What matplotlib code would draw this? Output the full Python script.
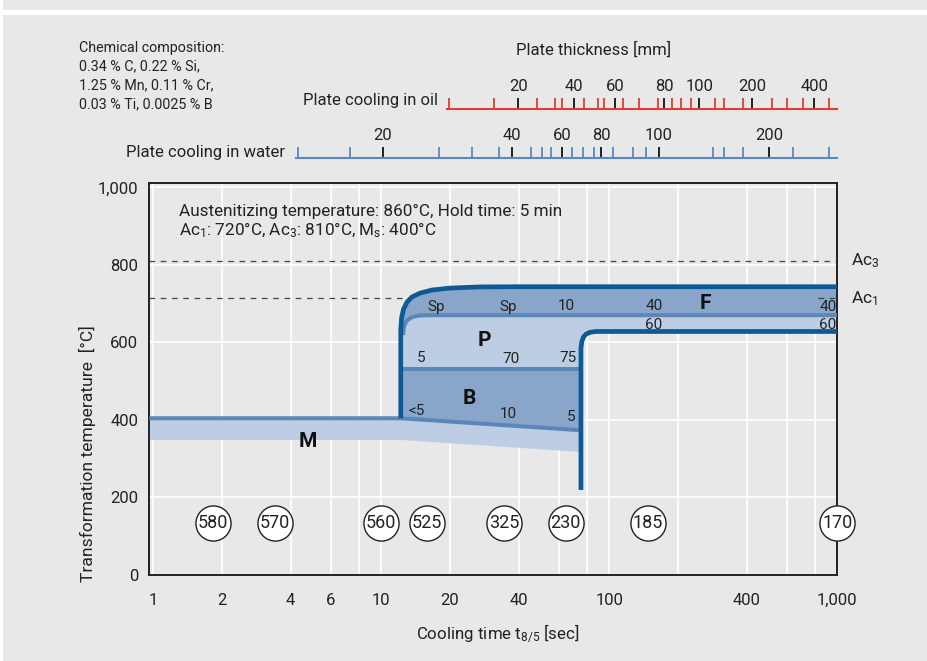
import matplotlib
matplotlib.use('Agg')
import matplotlib.pyplot as plt
import matplotlib.transforms as mtransforms
from matplotlib.patches import Rectangle
from matplotlib.ticker import NullFormatter

plt.rcParams['font.family'] = ['Roboto', 'DejaVu Sans']
plt.rcParams['mathtext.fontset'] = 'custom'
plt.rcParams['mathtext.rm'] = 'Roboto'
plt.rcParams['mathtext.it'] = 'Roboto:italic'
plt.rcParams['mathtext.bf'] = 'Roboto:bold'

# ---------------- data ----------------
x_major = [1, 2, 4, 6, 10, 20, 40, 100, 400, 1000]
x_major_lbl = ['1', '2', '4', '6', '10', '20', '40', '100', '400', '1,000']
x_minor = [8, 60, 80, 200, 600, 800]
y_ticks = [0, 200, 400, 600, 800, 1000]
y_tick_lbl = ['0', '200', '400', '600', '800', '1,000']

Ac3 = 810
Ac1 = 714

# transformation start curve (outer, dark)
start_t = [12.17, 12.17, 12.27, 12.52, 12.97, 13.63, 14.78, 16.69, 20.0, 27.1, 40.6, 1000]
start_T = [404, 632, 663, 686, 704, 717, 727, 735, 740, 743, 743.5, 743.5]
# ferrite / pearlite boundary
inner_t = [12.45, 12.58, 12.9, 13.5, 14.49, 16.36, 1000]
inner_T = [619, 642, 655, 664, 669, 670, 670]
# pearlite / bainite boundary
pb_t = [12.17, 75.1]
pb_T = [531, 531]
# transformation end curve (dark)
end_t = [75.1, 75.1, 75.8, 77.1, 79.0, 82.3, 87.4, 1000]
end_T = [219, 585, 603, 614, 621, 626, 628, 628]
# martensite start line and martensite band lower edge
ms_t = [0.96, 12.17, 75.1]
ms_T = [404, 404, 373]
m_low_T = [348, 348, 317]

# hardness values (circles)
hard_vals = ['580', '570', '560', '525', '325', '230', '185', '170']
hard_t = [1.83, 3.42, 10.0, 15.8, 34.6, 64.4, 148, 1000]
hard_T = 134.5

# phase percentage labels
pct_text = ['Sp', 'Sp', '10', '40', '60', '5', '70', '75', '<5', '10', '5']
pct_t = [17.4, 36.1, 65.0, 157, 157, 14.9, 36.9, 65.7, 14.3, 36.1, 67.7]
pct_T = [692, 692, 694, 694, 645, 559, 556, 559, 423, 415, 406]
edge_pct_text = ['40', '60']
edge_pct_T = [692, 645]
phase_text = ['F', 'P', 'B', 'M']
phase_t = [264.8, 28.2, 24.3, 4.77]
phase_T = [699, 604, 455, 345]

# plate-thickness scales (positions as cooling times)
oil_major = [39.9, 70.2, 105.9, 174.2, 248.2, 423.9, 792.9]
oil_major_lbl = ['20', '40', '60', '80', '100', '200', '400']
oil_minor = [19.8, 31.3, 48.0, 57.8, 61.8, 77.4, 89.5, 95.1, 114.8, 135.4, 163.1,
             188.9, 205.7, 228.2, 291.7, 319.4, 387.0, 518.6, 599.9, 709.6, 919.5]
oil_start = 19.5
water_major = [10.14, 37.55, 62.22, 91.97, 165.2, 501.7]
water_major_lbl = ['20', '40', '60', '80', '100', '200']
water_minor = [4.30, 7.29, 17.97, 25.07, 32.83, 45.36, 50.53, 55.51, 68.42, 76.43, 85.70,
               104.1, 127.4, 144.9, 284.1, 318.5, 384.7, 641.3, 922.4]
water_start = 4.23

# ---------------- style ----------------
BG = '#e7e8e7'
DARK = '#0e5a96'
MID = '#5b86b8'
FILL_DARK = '#89a6ca'
FILL_LIGHT = '#bdcee4'
RED = '#e53b2c'
SBLUE = '#5b89bd'
TXT = '#222222'

W, H = 928, 661
fig = plt.figure(figsize=(W / 100, H / 100), dpi=100, facecolor='white')


def fx(px):
    return px / W


def fy(py):
    return 1 - py / H


fig.add_artist(Rectangle((fx(3), 0), 1, fy(15), transform=fig.transFigure,
                         facecolor=BG, edgecolor='none', zorder=0))
fig.add_artist(Rectangle((fx(3), fy(10)), 1, 10 / H, transform=fig.transFigure,
                         facecolor=BG, edgecolor='none', zorder=0))

AX_L, AX_R, AX_T, AX_B = 149.3, 837.3, 182.7, 574.8
ax = fig.add_axes([fx(AX_L), fy(AX_B), (AX_R - AX_L) / W, (AX_B - AX_T) / H])
ax.set_facecolor(BG)
ax.set_xscale('log')
ax.set_xlim(0.96, 1000)
ax.set_ylim(0, 1012)
ax.set_xticks(x_major, labels=x_major_lbl)
ax.set_xticks(x_minor, minor=True)
ax.xaxis.set_minor_formatter(NullFormatter())
ax.set_yticks(y_ticks, labels=y_tick_lbl)
ax.tick_params(axis='both', which='both', length=0, labelsize=12, colors=TXT)
ax.tick_params(axis='x', pad=13)
ax.tick_params(axis='y', pad=8)
ax.set_axisbelow(True)
ax.grid(True, which='both', axis='x', color='white', lw=1.2)
ax.grid(True, which='major', axis='y', color='white', lw=1.2)
for s in ax.spines.values():
    s.set_color(TXT)
    s.set_linewidth(1.4)

# Ac lines
for v in (Ac3, Ac1):
    ax.axhline(v, color='#444444', lw=0.9, dashes=(4.5, 4.5), zorder=1.5)
ax.plot([820, 1000], [Ac1, Ac1], color='#444444', lw=0.9, dashes=(4.5, 4.5), zorder=2.6)

# fills
light_t = start_t + end_t[::-1][:-1] + [ms_t[2]]
light_T = start_T + end_T[::-1][:-1] + [ms_T[2]]
ax.fill(light_t, light_T, color=FILL_LIGHT, lw=0, zorder=2)
ax.fill(start_t + inner_t[::-1], start_T + inner_T[::-1], color=FILL_DARK, lw=0, zorder=2.1)
ax.fill([pb_t[0], pb_t[1], ms_t[2], ms_t[1]], [pb_T[0], pb_T[1], ms_T[2], ms_T[1]],
        color=FILL_DARK, lw=0, zorder=2.1)
ax.fill(ms_t + ms_t[::-1], ms_T + m_low_T[::-1], color=FILL_LIGHT, lw=0, zorder=2)

# boundary lines
for tt, TT in ((inner_t, inner_T), (pb_t, pb_T), (ms_t, ms_T)):
    ax.plot(tt, TT, color=MID, lw=2.9, solid_capstyle='butt', solid_joinstyle='round', zorder=3)
for tt, TT in ((start_t, start_T), (end_t, end_T)):
    ax.plot(tt, TT, color=DARK, lw=3.4, solid_capstyle='butt', solid_joinstyle='round', zorder=3.5)

# labels in the diagram
for s, t, T in zip(pct_text, pct_t, pct_T):
    ax.text(t, T, s, ha='center', va='center', fontsize=11, color=TXT, zorder=4)
for s, T in zip(edge_pct_text, edge_pct_T):
    ax.text(992, T, s, ha='right', va='center', fontsize=11, color=TXT, zorder=4)
for s, t, T in zip(phase_text, phase_t, phase_T):
    ax.text(t, T, s, ha='center', va='center', fontsize=15, fontweight='bold', color='#111111', zorder=4)

# hardness circles
ax.scatter(hard_t, [hard_T] * len(hard_t), s=640, facecolor='white', edgecolor=TXT,
           linewidth=1.0, zorder=5, clip_on=False)
for s, t in zip(hard_vals, hard_t):
    ax.text(t, hard_T, s, ha='center', va='center', fontsize=13, color=TXT, zorder=6)

# Ac labels at right
trans = mtransforms.blended_transform_factory(ax.transAxes, ax.transData)
ax.text(1.02, Ac3, 'Ac$_\\mathregular{3}$', transform=trans, ha='left', va='center', fontsize=12.5, color=TXT)
ax.text(1.02, Ac1, 'Ac$_\\mathregular{1}$', transform=trans, ha='left', va='center', fontsize=12.5, color=TXT)

# info text
fig.text(fx(179), fy(211), 'Austenitizing temperature: 860°C, Hold time: 5 min',
         ha='left', va='center', fontsize=12.3, color=TXT)
fig.text(fx(179), fy(230), 'Ac$_\\mathregular{1}$: 720°C, Ac$_\\mathregular{3}$: 810°C, M$_\\mathregular{s}$: 400°C',
         ha='left', va='center', fontsize=12.3, color=TXT)

# axis labels
fig.text(fx(87), fy(454), 'Transformation temperature  [°C]', rotation=90,
         ha='center', va='center', fontsize=12.6, color=TXT)
fig.text(fx(498), fy(633), 'Cooling time t$_\\mathregular{8/5}$ [sec]',
         ha='center', va='center', fontsize=12.2, color=TXT)

# chemical composition
chem_lines = ['Chemical composition:', '0.34 % C, 0.22 % Si,', '1.25 % Mn, 0.11 % Cr,',
              '0.03 % Ti, 0.0025 % B']
for i, s in enumerate(chem_lines):
    fig.text(fx(79), fy(48 + 18.7 * i), s, ha='left', va='center', fontsize=10.3, color=TXT)

fig.text(fx(594), fy(50), 'Plate thickness [mm]', ha='center', va='center', fontsize=12, color=TXT)
fig.text(fx(438), fy(101), 'Plate cooling in oil', ha='right', va='center', fontsize=12, color=TXT)
fig.text(fx(285), fy(152), 'Plate cooling in water', ha='right', va='center', fontsize=12, color=TXT)


def scale_axis(y_px, major, major_lbl, minor, color, start):
    sax = fig.add_axes([fx(AX_L), fy(y_px), (AX_R - AX_L) / W, 1e-4])
    sax.set_xscale('log')
    sax.set_xlim(0.96, 1000)
    sax.patch.set_visible(False)
    for s in ('left', 'right', 'bottom'):
        sax.spines[s].set_visible(False)
    sax.spines['top'].set_color(color)
    sax.spines['top'].set_linewidth(1.5)
    sax.spines['top'].set_bounds(start, 1000)
    sax.yaxis.set_visible(False)
    sax.xaxis.set_ticks_position('top')
    sax.set_xticks(major, labels=major_lbl)
    sax.set_xticks(minor, minor=True)
    sax.xaxis.set_minor_formatter(NullFormatter())
    sax.tick_params(axis='x', which='both', direction='out', length=7.7, width=1.3,
                    labelsize=12, pad=3, labelcolor=TXT)
    sax.tick_params(axis='x', which='major', color='#111111')
    sax.tick_params(axis='x', which='minor', color=color)
    return sax


scale_axis(109, oil_major, oil_major_lbl, oil_minor, RED, oil_start)
scale_axis(158.3, water_major, water_major_lbl, water_minor, SBLUE, water_start)

fig.savefig('out.png', dpi=100, facecolor='white')
